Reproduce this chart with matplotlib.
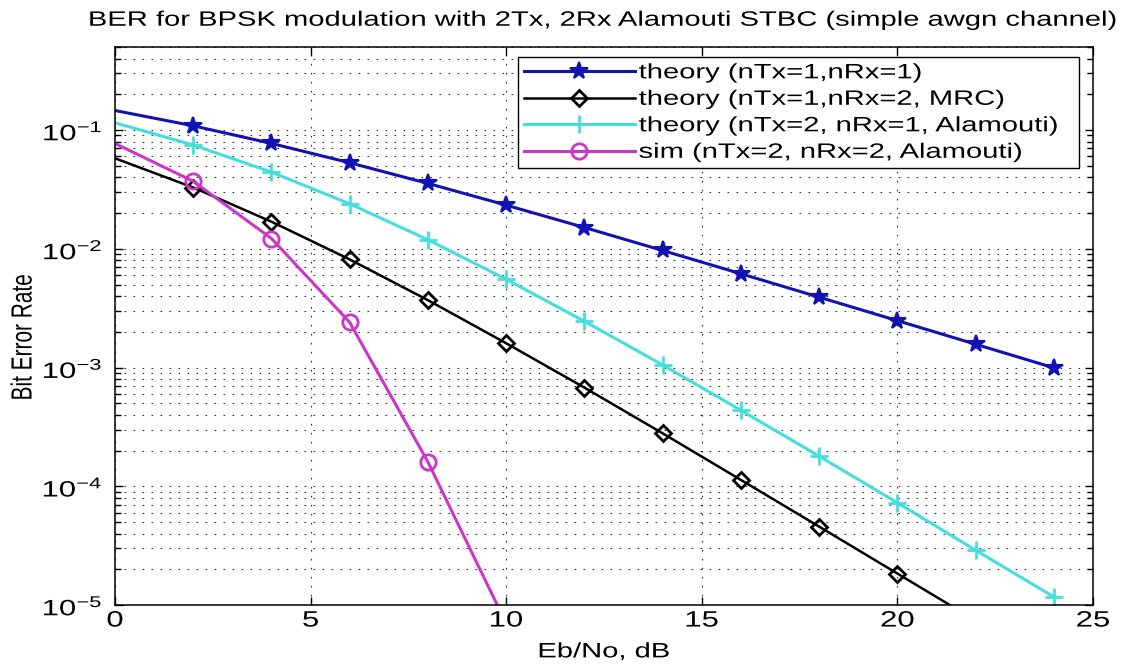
import matplotlib
matplotlib.use('Agg')
import matplotlib.pyplot as plt
from matplotlib.patheffects import AbstractPathEffect
from matplotlib.transforms import Affine2D
from matplotlib.ticker import FixedLocator, FixedFormatter, NullFormatter

# data
ebno = [0, 2, 4, 6, 8, 10, 12, 14, 16, 18, 20, 22, 24]
ber_siso = [0.146, 0.1085, 0.0771, 0.0530, 0.0355, 0.0233, 0.0151,
            0.00967, 0.00616, 0.00391, 0.00248, 0.00157, 0.000993]
ber_mrc = [0.0578, 0.0328, 0.0169, 0.00813, 0.00369, 0.0016, 0.000677,
           0.000279, 0.000113, 4.57e-05, 1.84e-05, 7.4e-06, 2.96e-06]
ber_alamouti = [0.115, 0.0748, 0.0442, 0.0239, 0.0119, 0.00553, 0.00245,
                0.00105, 0.000436, 0.000179, 7.26e-05, 2.89e-05, 1.17e-05]
ebno_sim = [0, 2, 4, 6, 8, 10]
ber_sim = [0.077, 0.037, 0.0122, 0.0024, 0.00016, 7e-06]

labels = ['theory (nTx=1,nRx=1)', 'theory (nTx=1,nRx=2, MRC)',
          'theory (nTx=2, nRx=1, Alamouti)', 'sim (nTx=2, nRx=2, Alamouti)']
title = 'BER for BPSK modulation with 2Tx, 2Rx Alamouti STBC (simple awgn channel)'
xticks = [0, 5, 10, 15, 20, 25]
yticks = [1e-5, 1e-4, 1e-3, 1e-2, 1e-1]
ytick_labels = ['$10^{-5}$', '$10^{-4}$', '$10^{-3}$', '$10^{-2}$', '$10^{-1}$']


class Widen(AbstractPathEffect):
    # the original picture is stretched sideways, text too
    def __init__(self, sx=1.4, anchor='center'):
        super().__init__()
        self.sx = sx
        self.anchor = anchor

    def draw_path(self, renderer, gc, tpath, affine, rgbFace=None):
        ext = tpath.get_extents(affine)
        if self.anchor == 'left':
            x0 = ext.x0
        elif self.anchor == 'right':
            x0 = ext.x1
        else:
            x0 = (ext.x0 + ext.x1) / 2
        t = affine + Affine2D().translate(-x0, 0).scale(self.sx, 1).translate(x0, 0)
        renderer.draw_path(gc, tpath, t, rgbFace)


plt.rcParams['font.family'] = ['Liberation Sans', 'DejaVu Sans']
plt.rcParams['mathtext.fontset'] = 'custom'
plt.rcParams['mathtext.rm'] = 'Liberation Sans'
plt.rcParams['mathtext.it'] = 'Liberation Sans'
plt.rcParams['mathtext.default'] = 'regular'
FS = 15

fig = plt.figure(figsize=(11.23, 6.66), dpi=100)
ax = fig.add_axes([0.1024, 0.0916, 0.8709, 0.8378])

lw = 2.2
ax.semilogy(ebno, ber_siso, '-*', color='#1212b4', lw=lw, ms=13, mew=1.5,
            markevery=slice(1, None), label=labels[0])
ax.semilogy(ebno, ber_mrc, '-D', color='black', lw=1.8, ms=8, mew=2,
            mfc='none', markevery=slice(1, None), label=labels[1])
ax.semilogy(ebno, ber_alamouti, '-+', color='#45dede', lw=lw, ms=13, mew=2,
            markevery=slice(1, None), label=labels[2])
ax.semilogy(ebno_sim, ber_sim, '-o', color='#cc35c8', lw=lw, ms=11, mew=2,
            mfc='none', markevery=slice(1, None), label=labels[3])

ax.set_xlim(0, 25)
ax.set_ylim(1e-5, 0.5)

ax.xaxis.set_major_locator(FixedLocator(xticks))
ax.yaxis.set_major_locator(FixedLocator(yticks))
ax.yaxis.set_major_formatter(FixedFormatter(ytick_labels))
minor = [m * 10.0 ** e for e in range(-5, 0) for m in range(2, 10)]
ax.yaxis.set_minor_locator(FixedLocator(minor))
ax.yaxis.set_minor_formatter(NullFormatter())

ax.tick_params(which='both', direction='in', top=True, right=True,
               labelsize=16, width=1)
ax.tick_params(which='major', length=6)
ax.tick_params(which='minor', length=4)
ax.tick_params(axis='x', pad=4)
ax.tick_params(axis='y', pad=9)

dots = (0, (1.5, 6.6))
ax.grid(True, which='major', axis='both', color='#333333', lw=0.8, ls=dots)
ax.grid(True, which='minor', axis='y', color='#333333', lw=0.8, ls=dots)
for s in ax.spines.values():
    s.set_linewidth(1.1)

ax.set_title(title, fontsize=FS, y=1.048, pad=0, va='center',
             path_effects=[Widen()])
ax.set_xlabel('Eb/No, dB', fontsize=FS, path_effects=[Widen()])
ax.xaxis.set_label_coords(0.5, -0.084)
ax.xaxis.label.set_va('center')
ax.set_ylabel('Bit Error Rate', fontsize=FS, path_effects=[Widen()])
ax.yaxis.set_label_coords(-0.094, 0.48)
ax.yaxis.label.set_va('center')

leg = ax.legend(loc='upper left', bbox_to_anchor=(0.412, 0.7527, 0.5737, 0.2293),
                mode='expand', borderaxespad=0, fontsize=FS, fancybox=False,
                framealpha=1, edgecolor='black', borderpad=0.3,
                labelspacing=0.36, handlelength=5.3, handletextpad=0.2)
leg.get_frame().set_linewidth(1.0)
for t in leg.get_texts():
    t.set_path_effects([Widen(anchor='left')])

fig.canvas.draw()
for t in ax.get_xticklabels():
    t.set_path_effects([Widen()])
for t in ax.get_yticklabels():
    t.set_path_effects([Widen(anchor='right')])

fig.savefig('out.png', dpi=100, facecolor='white')
